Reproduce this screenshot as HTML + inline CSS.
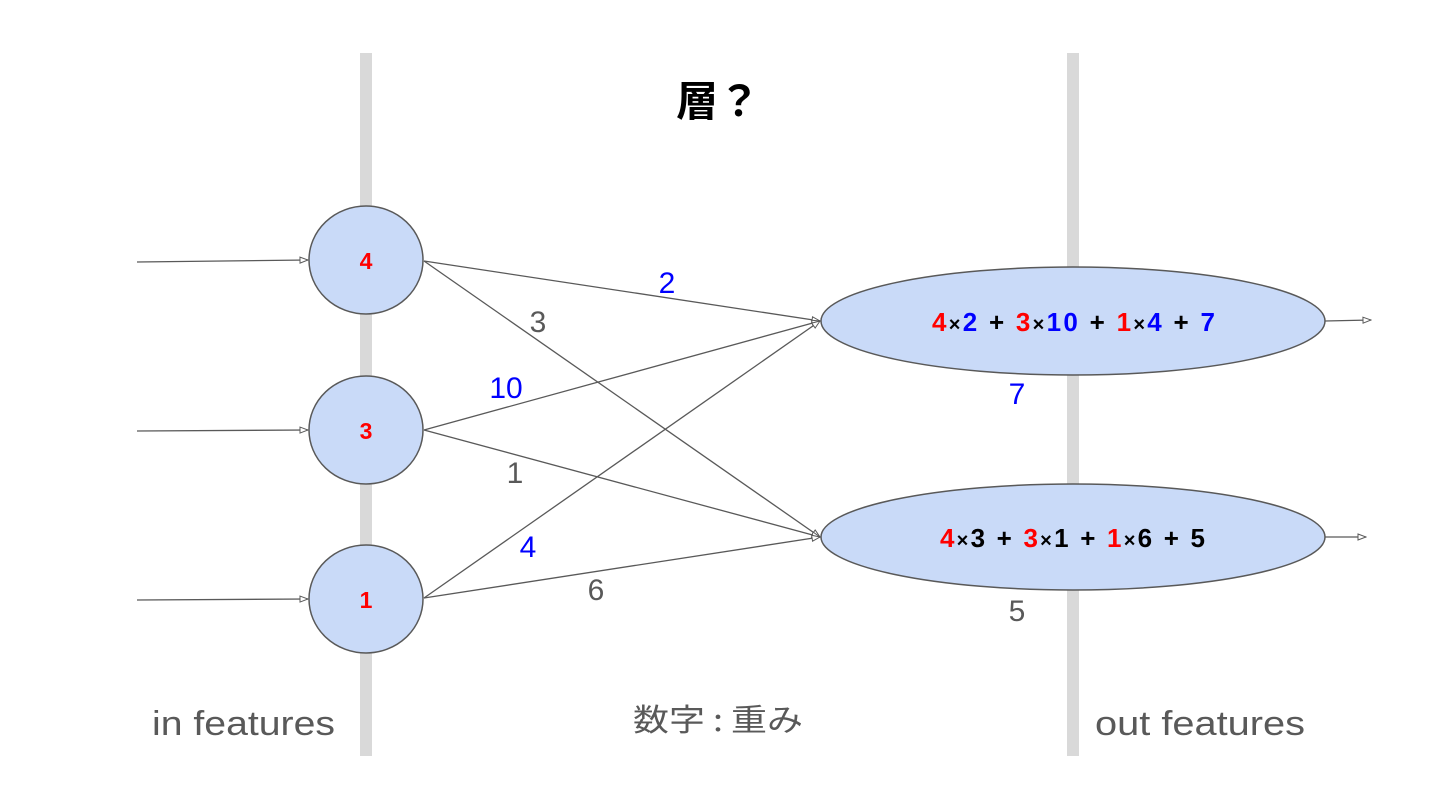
<!DOCTYPE html>
<html><head><meta charset="utf-8"><style>html,body{margin:0;padding:0;background:#fff}svg{display:block}</style></head>
<body>
<svg width="1440" height="810" viewBox="0 0 1440 810" xmlns="http://www.w3.org/2000/svg" font-family="Liberation Sans, Noto Sans CJK JP, sans-serif">
<defs><marker id="a" markerWidth="10" markerHeight="8" refX="9" refY="4" orient="auto" markerUnits="userSpaceOnUse"><path d="M1,1 L9,4 L1,7 Z" fill="#fff" stroke="#595959" stroke-width="1"/></marker></defs>
<rect x="360" y="53" width="12" height="703" fill="#d9d9d9"/>
<rect x="1067" y="53" width="12" height="703" fill="#d9d9d9"/>
<text x="718" y="116" font-size="42" font-weight="bold" text-anchor="middle" font-family="Noto Sans CJK JP, sans-serif" fill="#000">層？</text>
<g stroke="#595959" stroke-width="1.3" fill="none" marker-end="url(#a)">
<line x1="137" y1="262" x2="308" y2="260"/>
<line x1="137" y1="431" x2="308" y2="430"/>
<line x1="137" y1="600" x2="308" y2="599"/>
<line x1="424" y1="261" x2="820" y2="321"/>
<line x1="424" y1="261" x2="820" y2="537"/>
<line x1="424" y1="430" x2="820" y2="321"/>
<line x1="424" y1="430" x2="820" y2="537"/>
<line x1="424" y1="598" x2="820" y2="321"/>
<line x1="424" y1="598" x2="820" y2="537"/>
<line x1="1325" y1="321" x2="1371" y2="320"/>
<line x1="1325" y1="537" x2="1366" y2="537"/>
</g>
<g fill="#c9daf8" stroke="#595959" stroke-width="1.5">
<ellipse cx="366" cy="260" rx="57" ry="54"/>
<ellipse cx="366" cy="430" rx="57" ry="54"/>
<ellipse cx="366" cy="599" rx="57" ry="54"/>
<ellipse cx="1073" cy="321" rx="252" ry="54"/>
<ellipse cx="1073" cy="537" rx="252" ry="53"/>
</g>
<g font-weight="bold" fill="#f00" font-size="23" text-anchor="middle">
<text x="366" y="269">4</text><text x="366" y="439">3</text><text x="366" y="608">1</text>
</g>
<g font-size="26" font-weight="bold">
<text x="932" y="331" textLength="283" lengthAdjust="spacing"><tspan fill="#f00">4</tspan><tspan fill="#000" font-size="20">×</tspan><tspan fill="#00f">2</tspan><tspan fill="#000"> + </tspan><tspan fill="#f00">3</tspan><tspan fill="#000" font-size="20">×</tspan><tspan fill="#00f">10</tspan><tspan fill="#000"> + </tspan><tspan fill="#f00">1</tspan><tspan fill="#000" font-size="20">×</tspan><tspan fill="#00f">4</tspan><tspan fill="#000"> + </tspan><tspan fill="#00f">7</tspan></text>
<text x="940" y="547" textLength="265" lengthAdjust="spacing"><tspan fill="#f00">4</tspan><tspan fill="#000" font-size="20">×</tspan><tspan fill="#000">3 + </tspan><tspan fill="#f00">3</tspan><tspan fill="#000" font-size="20">×</tspan><tspan fill="#000">1 + </tspan><tspan fill="#f00">1</tspan><tspan fill="#000" font-size="20">×</tspan><tspan fill="#000">6 + 5</tspan></text>
</g>
<g font-size="30" text-anchor="middle">
<text x="667" y="293" fill="#00f">2</text>
<text x="538" y="332" fill="#595959">3</text>
<text x="506" y="398" fill="#00f">10</text>
<text x="515" y="483" fill="#595959">1</text>
<text x="528" y="557" fill="#00f">4</text>
<text x="596" y="600" fill="#595959">6</text>
<text x="1017" y="404" fill="#00f">7</text>
<text x="1017" y="621" fill="#595959">5</text>
</g>
<g font-size="34" fill="#595959">
<text x="152" y="735" textLength="183" lengthAdjust="spacingAndGlyphs">in features</text>
<text x="633" y="731" font-family="Noto Sans CJK JP, sans-serif" font-size="31" textLength="170" lengthAdjust="spacingAndGlyphs">数字 : 重み</text>
<text x="1095" y="735" textLength="210" lengthAdjust="spacingAndGlyphs">out features</text>
</g>
</svg>
</body></html>
